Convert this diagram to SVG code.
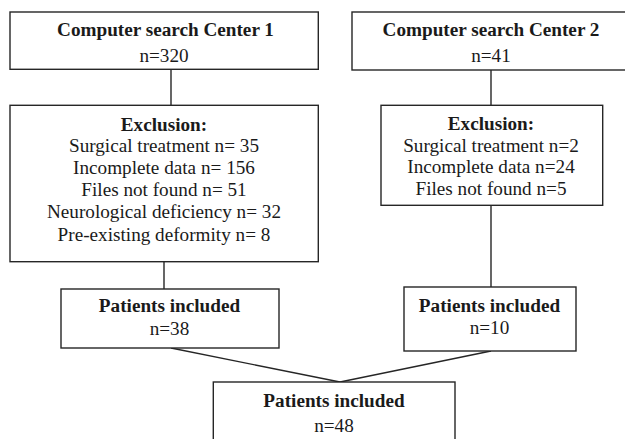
<svg xmlns="http://www.w3.org/2000/svg" width="625" height="439" viewBox="0 0 625 439">
<style>
.box{fill:#fff;stroke:#262626;stroke-width:1.4}
.ln{stroke:#262626;stroke-width:1.4;fill:none}
text{font-family:"Liberation Serif","Times New Roman",serif;font-size:19.2px;fill:#1a1a1a;text-anchor:middle}
.b{font-weight:bold}
</style>
<rect width="625" height="439" fill="#fff"/>
<g id="connectors">
<line class="ln" x1="171" y1="69.3" x2="171" y2="105.3"/>
<line class="ln" x1="491" y1="70" x2="491" y2="105.3"/>
<line class="ln" x1="164" y1="261.7" x2="164" y2="289"/>
<line class="ln" x1="491" y1="205.3" x2="491" y2="287"/>
<line class="ln" x1="171" y1="348" x2="340" y2="382"/>
<line class="ln" x1="491" y1="351" x2="340" y2="382"/>
</g>
<g id="center1">
<rect class="box" x="10" y="12" width="308.3" height="57.3"/>
<text class="b" x="165.5" y="36">Computer search Center 1</text>
<text x="164" y="62.3">n=320</text>
</g>
<g id="center2">
<rect class="box" x="352" y="12" width="290" height="58"/>
<text class="b" x="491" y="36">Computer search Center 2</text>
<text x="491" y="62.3">n=41</text>
</g>
<g id="exclusion1">
<rect class="box" x="10" y="105.3" width="308.3" height="156.4"/>
<text class="b" x="164" y="130.7">Exclusion:</text>
<text x="164" y="152.3">Surgical treatment n= 35</text>
<text x="164" y="174.3">Incomplete data n= 156</text>
<text x="164" y="196.3">Files not found n= 51</text>
<text x="164" y="218.3">Neurological deficiency n= 32</text>
<text x="164" y="240.7">Pre-existing deformity n= 8</text>
</g>
<g id="exclusion2">
<rect class="box" x="381" y="105.3" width="221.7" height="100"/>
<text class="b" x="491" y="130">Exclusion:</text>
<text x="491" y="151.7">Surgical treatment n=2</text>
<text x="491" y="173.3">Incomplete data n=24</text>
<text x="491" y="195">Files not found n=5</text>
</g>
<g id="patients1">
<rect class="box" x="61" y="289" width="218" height="59"/>
<text class="b" x="169.5" y="312.3">Patients included</text>
<text x="169.5" y="335">n=38</text>
</g>
<g id="patients2">
<rect class="box" x="404" y="287" width="172" height="64"/>
<text class="b" x="489.5" y="311.7">Patients included</text>
<text x="489.5" y="334.3">n=10</text>
</g>
<g id="patients_total">
<rect class="box" x="213.3" y="382" width="241.7" height="70"/>
<text class="b" x="334" y="406.7">Patients included</text>
<text x="334" y="431.7">n=48</text>
</g>
</svg>
